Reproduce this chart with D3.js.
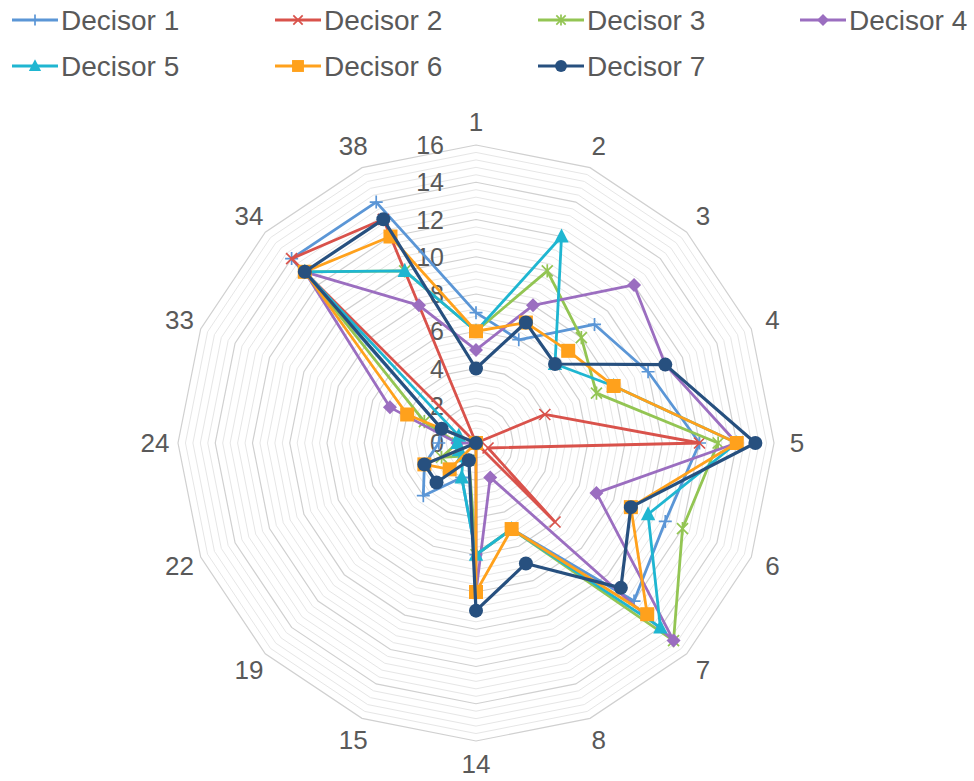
<!DOCTYPE html>
<html>
<head>
<meta charset="utf-8">
<script src="https://cdn.jsdelivr.net/npm/d3@7"></script>
<style>
  html, body { margin: 0; padding: 0; background: #ffffff; }
  svg { display: block; }
  text { font-family: "Liberation Sans", Arial, sans-serif; fill: #595959; }
</style>
</head>
<body>
<svg id="chart" width="974" height="781"></svg>
<script>
// ---------- data ----------
const categories = ["1","2","3","4","5","6","7","8","14","15","19","22","24","33","34","38"];
const seriesNames = ["Decisor 1","Decisor 2","Decisor 3","Decisor 4","Decisor 5","Decisor 6","Decisor 7"];
const decisor1 = [7, 6, 9, 10, 12, 11, 12, 5, 6, 2, 4, 3, 2, 2, 14, 14];
const decisor2 = [0, 0, 0, 4, 12, 0.7, 6, 0, 0, 0, 0, 0, 0, 0, 14, 13];
const decisor3 = [6, 10, 8, 7, 13, 12, 15, 5, 6, 1, 1, 2, 1, 3, 13, 10];
const decisor4 = [5, 8, 12, 11, 14, 7, 15, 2, 8, 0, 0, 0, 1, 5, 13, 8];
const decisor5 = [6, 12, 6, 8, 14, 10, 14, 5, 6, 2, 1, 1, 1, 1, 13, 10];
const decisor6 = [6, 7, 7, 8, 14, 9, 13, 5, 8, 0, 2, 3, 0, 4, 13, 12];
const decisor7 = [4, 7, 6, 11, 15, 9, 11, 7, 9, 1, 3, 3, 0, 2, 13, 13];
const tickValues = [0, 2, 4, 6, 8, 10, 12, 14, 16];
const seriesColors = ["#5b96d6", "#d9524b", "#93c553", "#9b6ec0", "#1fb6d1", "#ffa11c", "#27507f"];
const seriesMarkers = ["plus", "cross", "star", "diamond", "triangle", "square", "circle"];

const allSeries = [decisor1, decisor2, decisor3, decisor4, decisor5, decisor6, decisor7];

// ---------- layout ----------
const svg = d3.select("#chart");
const cx = 476, cy = 443, R = 298;
const rScale = d3.scaleLinear().domain([0, 16]).range([0, R]);
const aScale = d3.scaleLinear().domain([0, categories.length]).range([0, 2 * Math.PI]);

const g = svg.append("g").attr("transform", `translate(${cx},${cy})`);

function polar(i, v) {
  const a = aScale(i), r = rScale(v);
  return [r * Math.sin(a), -r * Math.cos(a)];
}

// grid: minor every 0.4, major every 2
const minorVals = d3.range(0.4, 16.001, 0.4).filter(v => Math.abs(v / 2 - Math.round(v / 2)) > 1e-6);
const gridLine = d3.lineRadial().angle((d, i) => aScale(i)).curve(d3.curveLinearClosed);
g.append("g").selectAll("path").data(minorVals).join("path")
  .attr("d", v => gridLine.radius(rScale(v))(categories))
  .attr("fill", "none").attr("stroke", "#e6e6e6").attr("stroke-width", 1);
g.append("g").selectAll("path").data(tickValues.filter(v => v > 0)).join("path")
  .attr("d", v => gridLine.radius(rScale(v))(categories))
  .attr("fill", "none").attr("stroke", "#d0d0d0").attr("stroke-width", 1.2);

// tick labels
g.append("g").selectAll("text").data(tickValues).join("text")
  .attr("x", -32).attr("y", v => -rScale(v))
  .attr("text-anchor", "end").attr("dominant-baseline", "central")
  .style("font-size", "25px").text(v => v);

// category labels
g.append("g").selectAll("text").data(categories).join("text")
  .attr("x", (d, i) => (R + 23) * Math.sin(aScale(i)))
  .attr("y", (d, i) => -(R + 23) * Math.cos(aScale(i)))
  .attr("text-anchor", "middle").attr("dominant-baseline", "central")
  .style("font-size", "26px").text(d => d);

// marker drawing
function drawMarker(sel, type, color, x, y, scale) {
  const s = scale || 1;
  if (type === "plus") {
    const h = 6.5 * s;
    sel.append("path").attr("d", `M${x - h},${y}H${x + h}M${x},${y - h}V${y + h}`)
      .attr("stroke", color).attr("stroke-width", 1.7).attr("fill", "none");
  } else if (type === "cross") {
    const h = 5.5 * s;
    sel.append("path").attr("d", `M${x - h},${y - h}L${x + h},${y + h}M${x - h},${y + h}L${x + h},${y - h}`)
      .attr("stroke", color).attr("stroke-width", 1.7).attr("fill", "none");
  } else if (type === "star") {
    const h = 5.5 * s;
    sel.append("path").attr("d", `M${x - h},${y - h}L${x + h},${y + h}M${x - h},${y + h}L${x + h},${y - h}M${x},${y - h * 1.2}V${y + h * 1.2}`)
      .attr("stroke", color).attr("stroke-width", 1.7).attr("fill", "none");
  } else if (type === "diamond") {
    const h = 7 * s;
    sel.append("path").attr("d", `M${x},${y - h}L${x + h},${y}L${x},${y + h}L${x - h},${y}Z`)
      .attr("fill", color);
  } else if (type === "triangle") {
    const h = 8 * s;
    sel.append("path").attr("d", `M${x},${y - h}L${x + h * 0.9},${y + h * 0.75}L${x - h * 0.9},${y + h * 0.75}Z`)
      .attr("fill", color);
  } else if (type === "square") {
    const h = 7 * s;
    sel.append("rect").attr("x", x - h).attr("y", y - h).attr("width", 2 * h).attr("height", 2 * h)
      .attr("fill", color);
  } else if (type === "circle") {
    sel.append("circle").attr("cx", x).attr("cy", y).attr("r", 7 * s).attr("fill", color);
  }
}

// series
const radarLine = d3.lineRadial()
  .angle((d, i) => aScale(i))
  .radius(d => rScale(d))
  .curve(d3.curveLinearClosed);

allSeries.forEach((vals, si) => {
  const sg = g.append("g");
  sg.append("path").attr("d", radarLine(vals))
    .attr("fill", "none").attr("stroke", seriesColors[si])
    .attr("stroke-width", si === 6 ? 3.2 : 2.8).attr("stroke-linejoin", "round");
  vals.forEach((v, i) => {
    const [x, y] = polar(i, v);
    drawMarker(sg, seriesMarkers[si], seriesColors[si], x, y, 1);
  });
});

// legend
const legendX = [12, 275, 538, 800];
const legendY = [20, 66];
const lg = svg.append("g");
seriesNames.forEach((name, i) => {
  const col = i < 4 ? i : i - 4;
  const row = i < 4 ? 0 : 1;
  const x = legendX[col], y = legendY[row];
  lg.append("line").attr("x1", x).attr("x2", x + 46).attr("y1", y).attr("y2", y)
    .attr("stroke", seriesColors[i]).attr("stroke-width", 3);
  drawMarker(lg, seriesMarkers[i], seriesColors[i], x + 23, y, 0.85);
  lg.append("text").attr("x", x + 49).attr("y", y).attr("dominant-baseline", "central")
    .style("font-size", "28px").text(name);
});
</script>
</body>
</html>
